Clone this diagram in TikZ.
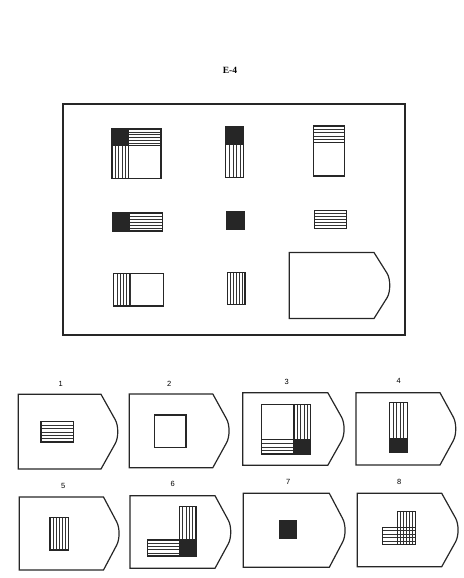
\documentclass[tikz,border=0pt]{standalone}
\usepackage{fontspec}
\setmainfont{Liberation Serif}
\newfontfamily\labelfont{Liberation Sans}
\begin{document}
\begin{tikzpicture}[x=1pt,y=-1pt,
  outline/.style={draw=black!85,line width=1.2pt,line join=miter},
  hatch/.style={draw=black!80,line width=0.5pt},
  solidfill/.style={fill=black!85},
  numlabel/.style={font=\labelfont\fontsize{7.5}{8}\selectfont,inner sep=0pt}]
\useasboundingbox (0,0) rectangle (463,578);
% hatching helpers: x1 y1 x2 y2 strips
\newcommand\myhh[5]{\foreach \i in {1,...,#5}{\draw[hatch] (#1,{#2+(#4-#2)*\i/#5}) -- (#3,{#2+(#4-#2)*\i/#5});}}
\newcommand\myvv[5]{\foreach \i in {1,...,#5}{\draw[hatch] ({#1+(#3-#1)*\i/#5},#2) -- ({#1+(#3-#1)*\i/#5},#4);}}
% panel: L T Lc tip B
\newcommand\mypanel[5]{\draw[outline] (#1,#2) -- (#3,#2) -- ({#4-3.5},{(#2+#5)/2-12}) .. controls ({#4-0.1},{(#2+#5)/2-6}) and ({#4-0.1},{(#2+#5)/2+6}) .. ({#4-3.5},{(#2+#5)/2+12}) -- (#3,#5) -- (#1,#5) -- cycle;}

\node[font=\bfseries\fontsize{9.5}{11}\selectfont,inner sep=0pt] (title) at (230,70.5) {E-4};

% main frame
\draw[outline] (63,104) rectangle (405,335);

% item 1
\fill[solidfill] (112,129) rectangle (128.5,145.5);
\myhh{128.5}{129}{161}{145.5}{6}
\myvv{112}{145.5}{128.5}{178.5}{5}
\draw[outline] (112,129) rectangle (161,178.5);
\draw[outline] (128.5,129) -- (128.5,178.5);
\draw[outline] (112,145.5) -- (161,145.5);
% item 2
\fill[solidfill] (225.7,127) rectangle (243.7,144.5);
\myvv{225.7}{144.5}{243.7}{177.3}{5}
\draw[outline] (225.7,127) rectangle (243.7,177.3);
% item 3
\myhh{313.8}{126}{344.8}{142.7}{5}
\draw[outline] (313.8,126) rectangle (344.8,176);
\draw[outline] (313.8,142.7) -- (344.8,142.7);

% item 4
\fill[solidfill] (112.5,213) rectangle (129.5,231);
\myhh{129.5}{213}{162.3}{231}{6}
\draw[outline] (112.5,213) rectangle (162.3,231);
% item 5
\fill[solidfill] (226.2,211.5) rectangle (244.7,229.5);
\draw[outline] (226.2,211.5) rectangle (244.7,229.5);
% item 6
\myhh{314.3}{210.3}{346.5}{228.2}{6}
\draw[outline] (314.3,210.3) rectangle (346.5,228.2);

% item 7
\myvv{113.5}{273.7}{129.8}{306}{5}
\draw[outline] (113.5,273.7) rectangle (163.3,306);
\draw[outline] (129.8,273.7) -- (129.8,306);
% item 8
\myvv{227.3}{272.2}{245}{304.2}{6}
\draw[outline] (227.3,272.2) rectangle (245,304.2);
% item 9
\mypanel{289.3}{252.5}{374}{390.7}{318.5}

% answers
\node[numlabel] (l1) at (60.7,384.3) {1};
\node[numlabel] (l2) at (169.3,384) {2};
\node[numlabel] (l3) at (286.7,381.7) {3};
\node[numlabel] (l4) at (398.7,381) {4};
\node[numlabel] (l5) at (63.3,486) {5};
\node[numlabel] (l6) at (172.7,484) {6};
\node[numlabel] (l7) at (288.3,482.3) {7};
\node[numlabel] (l8) at (399.3,482) {8};

\mypanel{18.3}{394.3}{101}{118.7}{469}
\mypanel{129.3}{394}{212.8}{230}{467.7}
\mypanel{242.7}{392.7}{327.8}{345}{465.3}
\mypanel{356}{392.7}{440}{456.7}{465}
\mypanel{19.3}{497}{103.5}{120}{570}
\mypanel{130}{495.7}{215}{231.7}{568.3}
\mypanel{243.3}{493.3}{329.3}{346}{567.3}
\mypanel{357.3}{493.3}{441.7}{459}{566.7}

% answer 1
\myhh{41}{421.7}{73.3}{442}{6}
\draw[outline] (41,421.7) rectangle (73.3,442);
% answer 2
\draw[outline] (154.3,415) rectangle (186,447.7);
% answer 3
\myvv{294}{404.3}{310.7}{439.7}{5}
\myhh{261.7}{439.7}{294}{454}{4}
\fill[solidfill] (294,439.7) rectangle (310.7,454);
\draw[outline] (261.7,404.3) rectangle (310.7,454);
\draw[outline] (294,404.3) -- (294,454);
\draw[outline] (261.7,439.7) -- (310.7,439.7);
% answer 4
\myvv{389.3}{402.7}{407.3}{438.3}{5}
\fill[solidfill] (389.3,438.3) rectangle (407.3,452);
\draw[outline] (389.3,402.7) rectangle (407.3,452);
% answer 5
\myvv{50}{517.3}{68.3}{550}{6}
\draw[outline] (50,517.3) rectangle (68.3,550);
% answer 6
\myvv{179.3}{506.7}{196}{540}{5}
\myhh{147.3}{540}{179.3}{556}{5}
\fill[solidfill] (179.3,540) rectangle (196,556);
\draw[outline] (179.3,506.7) rectangle (196,556);
\draw[outline] (147.3,540) rectangle (196,556);
% answer 7
\fill[solidfill] (279.3,521) rectangle (296.7,538.3);
\draw[outline] (279.3,521) rectangle (296.7,538.3);
% answer 8
\myvv{397.7}{511.7}{415.7}{544.3}{6}
\myhh{382.3}{527.3}{415.7}{544.3}{5}
\draw[outline] (397.7,511.7) rectangle (415.7,544.3);
\draw[outline] (382.3,527.3) rectangle (415.7,544.3);
\end{tikzpicture}
\end{document}
